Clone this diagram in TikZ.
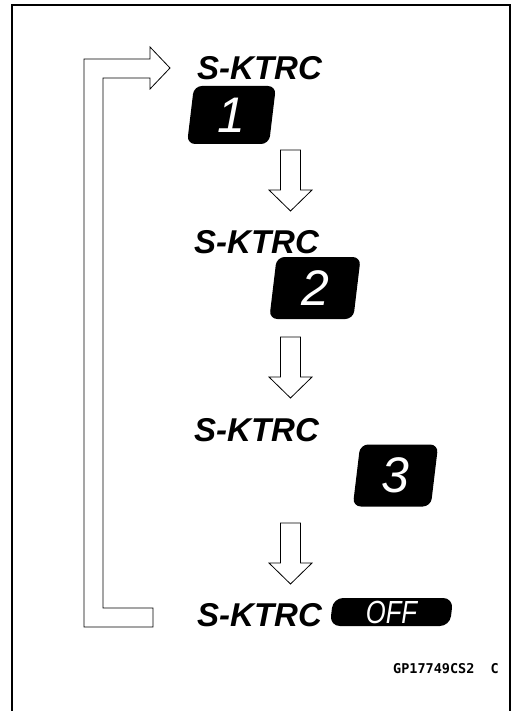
\documentclass[tikz,border=0pt]{standalone}
\usepackage{fontspec}
\newfontfamily\tagfont{Liberation Sans}
\newfontfamily\codefont{DejaVu Sans Mono}
% slanted black plate: #1 centre, #2 half width, #3 half height, #4 corner radius
\newcommand\modeplate[4]{%
  \fill[rounded corners=#4] (#1) +({-#2-0.12*#3},#3) -- +({#2-0.12*#3},#3) -- +({#2+0.12*#3},-#3) -- +({-#2+0.12*#3},-#3) -- cycle;}
\tikzset{
  tagtext/.style={inner sep=0pt, anchor=base west, font=\tagfont\bfseries\itshape\fontsize{33}{33}\selectfont},
  digit/.style={inner sep=0pt, text=white, font=\tagfont\itshape\fontsize{50}{50}\selectfont},
  offtext/.style={digit, font=\tagfont\itshape\fontsize{32}{32}\selectfont},
  hollow/.style={draw=black, fill=white, line width=0.8pt, line join=miter}
}
\begin{document}
\begin{tikzpicture}[x=1pt, y=-1pt, line cap=butt]
  \useasboundingbox (0,0) rectangle (513,711);
  % frame
  \draw[line width=2pt] (12,711) -- (12,5) -- (510,5) -- (510,711);
  % modes
  \coordinate (c1) at (231.5,115);
  \coordinate (c2) at (315,288);
  \coordinate (c3) at (395.5,475.5);
  \coordinate (coff) at (391.5,612);
  \modeplate{c1}{41}{29}{8pt}
  \modeplate{c2}{42}{31}{8pt}
  \modeplate{c3}{39}{31}{8pt}
  \modeplate{coff}{60}{14}{10pt}
  \node[tagtext] (t1) at (197,80) {S-KTRC};
  \node[digit] (m1) at (c1) {1};
  \node[tagtext] (t2) at (194,253) {S-KTRC};
  \node[digit] (m2) at (c2) {2};
  \node[tagtext] (t3) at (194,441) {S-KTRC};
  \node[digit] (m3) at (c3) {3};
  \node[tagtext] (t4) at (197,626) {S-KTRC};
  \node[offtext] (moff) at (coff) {\scalebox{0.8}[1]{OFF}};
  % down arrows
  \coordinate (a1) at (290.5,150);
  \coordinate (a2) at (290.5,337);
  \coordinate (a3) at (290.5,523);
  \foreach \a in {a1,a2,a3}
    \draw[hollow] (\a) +(-10,0) -- +(-10,40) -- +(-21.5,40) -- +(0,61) -- +(21.5,40) -- +(10,40) -- +(10,0) -- cycle;
  % back to the first mode
  \draw[hollow] (153,627) -- (84,627) -- (84,59) -- (150,59) -- (150,47) -- (170,68) -- (150,89)
    -- (150,78) -- (103,78) -- (103,608) -- (153,608) -- cycle;
  \node[inner sep=0pt, anchor=base east, font=\codefont\bfseries\fontsize{13.5}{13.5}\selectfont] (code) at (499,673) {GP17749CS2\ \ C};
\end{tikzpicture}
\end{document}
